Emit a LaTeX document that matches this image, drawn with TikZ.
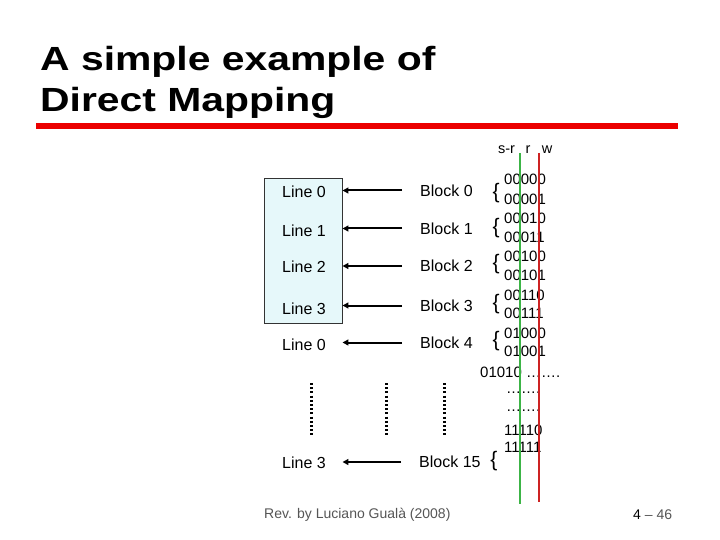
\documentclass[tikz,border=0pt]{standalone}
\usepackage{graphicx}
\usepackage{fontspec}
\setmainfont{Liberation Sans}
\usetikzlibrary{arrows.meta}
\definecolor{boxfill}{RGB}{230,248,250}
\definecolor{gline}{RGB}{60,180,70}
\definecolor{rline}{RGB}{205,35,35}
\definecolor{titlered}{RGB}{235,0,0}
\definecolor{foot}{RGB}{85,85,85}
\begin{document}
\begin{tikzpicture}[x=1pt,y=-1pt,
  ttl/.style={anchor=base west,inner sep=0,font=\fontsize{33.5}{40}\selectfont\bfseries},
  lbl/.style={inner sep=0,anchor=west,font=\fontsize{16}{19}\selectfont},
  bin/.style={inner sep=0,anchor=west,font=\fontsize{15}{18}\selectfont},
  brc/.style={inner sep=0,font=\fontsize{21}{24}\selectfont},
  hdr/.style={inner sep=0,font=\fontsize{14.5}{17}\selectfont},
  arr/.style={line width=2pt,-{Triangle[length=6pt,width=6pt]},shorten <=18pt,shorten >=16.5pt},
  dotl/.style={line width=3pt,dash pattern=on 2pt off 2.2pt},
  ftr/.style={inner sep=0,anchor=west,font=\fontsize{14}{17}\selectfont,text=foot}]
\useasboundingbox (0,0) rectangle (720,540);
% title
\node[ttl] (t1) at (40,71) {\scalebox{1.22}[1]{A simple example of}};
\node[ttl] (t2) at (40,112) {\scalebox{1.22}[1]{Direct Mapping}};
\draw[titlered,line width=6pt] (36,126) -- (678,126);
% cache box
\node[draw=black!80,fill=boxfill,line width=0.8pt,minimum width=78pt,minimum height=145pt,inner sep=0] (cache) at (303,250.5) {};
% line labels
\node[lbl] (l0) at (282,191.5) {Line 0};
\node[lbl] (l1) at (282,230.5) {Line 1};
\node[lbl] (l2) at (282,266.5) {Line 2};
\node[lbl] (l3) at (282,308.5) {Line 3};
\node[lbl] (l4) at (282,344.5) {Line 0};
\node[lbl] (l5) at (282,463) {Line 3};
% block labels
\node[lbl] (b0) at (420,190.5) {Block 0};
\node[lbl] (b1) at (420,228.5) {Block 1};
\node[lbl] (b2) at (420,266) {Block 2};
\node[lbl] (b3) at (420,305.5) {Block 3};
\node[lbl] (b4) at (420,342.5) {Block 4};
\node[lbl] (b15) at (419,462) {Block 15};
% arrows
\draw[arr] (b0.west) -- (b0.west -| l0.east);
\draw[arr] (b1.west) -- (b1.west -| l1.east);
\draw[arr] (b2.west) -- (b2.west -| l2.east);
\draw[arr] (b3.west) -- (b3.west -| l3.east);
\draw[arr] (b4.west) -- (b4.west -| l4.east);
\draw[arr] (b15.west) -- (b15.west -| l5.east);
% braces
\node[brc] (br0) at (496,193) {\{};
\node[brc] (br1) at (496,228) {\{};
\node[brc] (br2) at (496,264) {\{};
\node[brc] (br3) at (496,304) {\{};
\node[brc] (br4) at (496,341) {\{};
\node[brc] (br15) at (494,461) {\{};
% address bits header
\node[hdr] (hsr) at (506.5,150) {s-r};
\node[hdr] (hr) at (528,150) {r};
\node[hdr] (hw) at (547,150) {w};
% addresses
\node[bin] (a0) at (504,179) {00000};
\node[bin] (a1) at (504,199) {00001};
\node[bin] (a2) at (504,218) {00010};
\node[bin] (a3) at (504,237) {00011};
\node[bin] (a4) at (504,256) {00100};
\node[bin] (a5) at (504,275) {00101};
\node[bin] (a6) at (504,295) {00110};
\node[bin] (a7) at (504,313) {00111};
\node[bin] (a8) at (504,333) {01000};
\node[bin] (a9) at (504,351) {01001};
\node[bin] (a10) at (480,372) {01010 ……. };
\node[bin] (d1) at (506,393) {…….};
\node[bin] (d2) at (506,411) {…….};
\node[bin] (a30) at (504,430) {11110};
\node[bin] (a31) at (504,447) {11111};
% field separators
\draw[gline,line width=2pt] (520,153) -- (520,504);
\draw[rline,line width=2pt] (539,153) -- (539,502);
% vertical dotted ellipses
\draw[dotl] (311.7,383) -- (311.7,436);
\draw[dotl] (386.7,383) -- (386.7,436);
\draw[dotl] (444,383) -- (444,436);
% footer
\node[ftr] (f1) at (264,515) {Rev. by Luciano Gualà (2008)};
\node[ftr] (f2) at (633,515) {{\color{black}4} – 46};
\end{tikzpicture}
\end{document}
